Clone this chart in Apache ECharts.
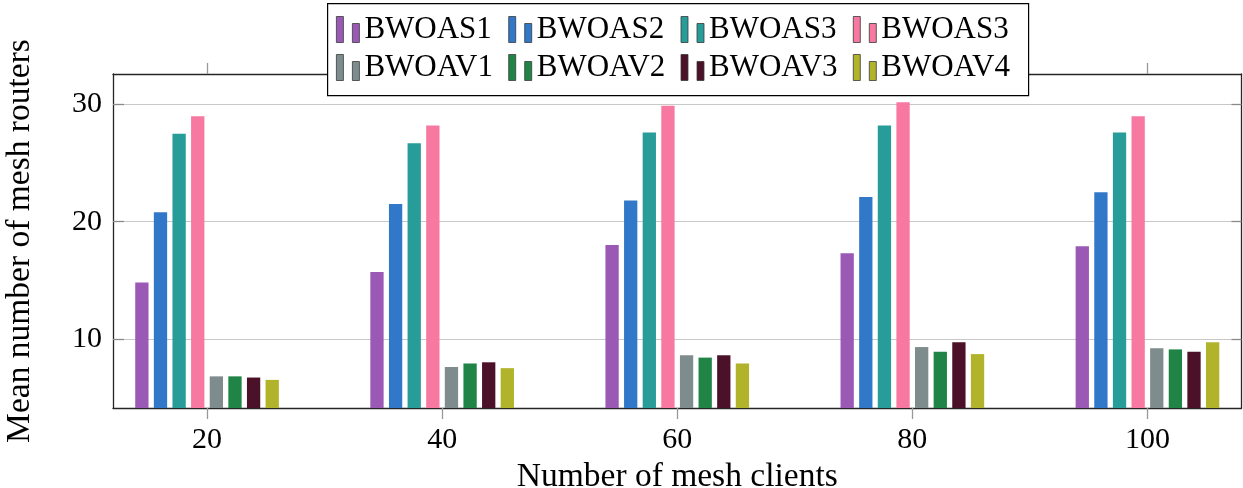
<!DOCTYPE html>
<html>
<head>
<meta charset="utf-8">
<script src="https://cdn.jsdelivr.net/npm/echarts@6/dist/echarts.min.js"></script>
<style>
  html, body { margin: 0; padding: 0; background: #ffffff; }
  #chart { width: 1243px; height: 488px; }
</style>
</head>
<body>
<div id="chart"></div>
<script>
// Mean number of mesh routers per number of mesh clients, one bar per variant.
const clients = [20, 40, 60, 80, 100];
const seriesNames = ['BWOAS1', 'BWOAS2', 'BWOAS3', 'BWOAS3 ', 'BWOAV1', 'BWOAV2', 'BWOAV3', 'BWOAV4'];
const bwoas1 = [14.8, 15.7, 18.0, 17.3, 17.9];
const bwoas2 = [20.8, 21.5, 21.8, 22.1, 22.5];
const bwoas3 = [27.5, 26.7, 27.6, 28.2, 27.6];
const bwoas3b = [29.0, 28.2, 29.9, 30.2, 29.0];
const bwoav1 = [6.8, 7.6, 8.6, 9.3, 9.2];
const bwoav2 = [6.8, 7.9, 8.4, 8.9, 9.1];
const bwoav3 = [6.7, 8.0, 8.6, 9.7, 8.9];
const bwoav4 = [6.5, 7.5, 7.9, 8.7, 9.7];
const yTicks = [10, 20, 30];
const colors = ['#9b59b6', '#3278c9', '#279c99', '#f778a1', '#7f8c8d', '#208447', '#4b1129', '#b1b42a'];

const values = [bwoas1, bwoas2, bwoas3, bwoas3b, bwoav1, bwoav2, bwoav3, bwoav4];
const FONT = 'Liberation Serif';
const legendIcon = 'path://M0,0h7v26h-7z M16,7h7v19h-7z';

const chart = echarts.init(document.getElementById('chart'), null, { renderer: 'canvas' });

const frameLine = { show: true, lineStyle: { color: '#262626', width: 1.3 } };

// Legend laid out as a 4-column matrix inside a shared framed box:
// one legend component per entry so the columns line up.
function legendCell(name, index) {
  const col = index % 4;
  const row = Math.floor(index / 4);
  return {
    left: 336 + col * 172.3,
    top: 14 + row * 38,
    orient: 'horizontal',
    data: [name],
    icon: legendIcon,
    itemWidth: 23,
    itemHeight: 26,
    padding: 0,
    itemStyle: { borderColor: '#3a3a3a', borderWidth: 0.8 },
    formatter: function (n) { return n.trim(); },
    textStyle: { fontFamily: FONT, fontSize: 31, color: '#000000' },
    z: 12
  };
}

chart.setOption({
  animation: false,
  backgroundColor: '#ffffff',
  color: colors,
  textStyle: { fontFamily: FONT },
  grid: { left: 113, right: 1.5, top: 74, bottom: 80, containLabel: false, outerBoundsMode: 'none' },
  graphic: [{
    type: 'rect',
    left: 327,
    top: 3,
    shape: { width: 701, height: 92 },
    style: { fill: '#ffffff', stroke: '#000000', lineWidth: 1.2 },
    z: 11
  }],
  legend: seriesNames.map(legendCell),
  xAxis: [
    {
      type: 'value',
      position: 'bottom',
      min: 12,
      max: 108,
      name: 'Number of mesh clients',
      nameLocation: 'middle',
      nameGap: 44,
      nameTextStyle: { fontFamily: FONT, fontSize: 33.5, color: '#000000' },
      axisLine: frameLine,
      axisTick: { show: true, inside: false, length: 11, customValues: clients, lineStyle: { color: '#999999', width: 1.3 } },
      axisLabel: { show: true, customValues: clients, margin: 17, fontFamily: FONT, fontSize: 30, color: '#000000' },
      splitLine: { show: false }
    },
    {
      type: 'value',
      position: 'top',
      min: 12,
      max: 108,
      axisLine: frameLine,
      axisTick: { show: true, inside: false, length: 11, customValues: clients, lineStyle: { color: '#999999', width: 1.3 } },
      axisLabel: { show: false },
      splitLine: { show: false }
    }
  ],
  yAxis: [
    {
      type: 'value',
      position: 'left',
      min: 4.1,
      max: 32.6,
      name: 'Mean number of mesh routers',
      nameLocation: 'middle',
      nameGap: 76,
      nameTextStyle: { fontFamily: FONT, fontSize: 33.5, color: '#000000' },
      axisLine: frameLine,
      axisTick: { show: true, inside: true, length: 11, customValues: yTicks, lineStyle: { color: '#8a8a8a', width: 1.3 } },
      axisLabel: { show: true, customValues: yTicks, margin: 11, fontFamily: FONT, fontSize: 30, color: '#000000' },
      splitLine: { show: true, lineStyle: { color: '#c8c8c8', width: 1.2 } }
    },
    {
      type: 'value',
      position: 'right',
      min: 4.1,
      max: 32.6,
      axisLine: frameLine,
      axisTick: { show: true, inside: true, length: 10, customValues: yTicks, lineStyle: { color: '#8a8a8a', width: 1.3 } },
      axisLabel: { show: false },
      splitLine: { show: false }
    }
  ],
  series: seriesNames.map(function (name, i) {
    return {
      name: name,
      type: 'bar',
      xAxisIndex: 0,
      yAxisIndex: 0,
      barWidth: 13.3,
      barGap: '40%',
      data: clients.map(function (c, j) { return [c, values[i][j]]; }),
      itemStyle: { color: colors[i] }
    };
  })
});
</script>
</body>
</html>
